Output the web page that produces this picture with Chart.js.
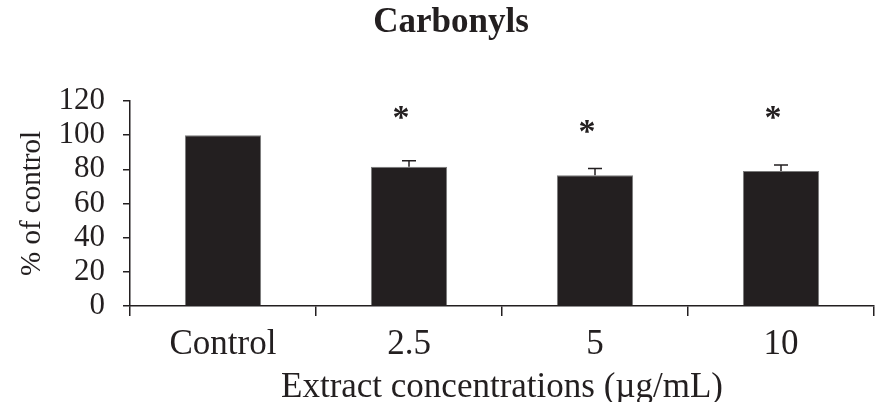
<!DOCTYPE html>
<html>
<head>
<meta charset="utf-8">
<title>Carbonyls</title>
<script src="https://cdn.jsdelivr.net/npm/chart.js@4/dist/chart.umd.min.js"></script>
<style>
  html, body { margin: 0; padding: 0; background: #fff; }
  #wrap { width: 885px; height: 402px; }
</style>
</head>
<body>
<div id="wrap"><canvas id="chart" width="885" height="402"></canvas></div>
<script>
// Carbonyls - % of control by extract concentration
var categories = ['Control', '2.5', '5', '10'];
var values = [100, 81.5, 76.5, 79];
var errors = [0, 3.5, 4, 3.5];
// height (in % of control units) where the significance star sits
var starLevels = [null, 114, 106, 114];
var yTicks = [0, 20, 40, 60, 80, 100, 120];

var ink = '#231f20';
var serif = '"Liberation Serif", "Times New Roman", serif';

// error bars drawn from the bar top up to value + error
var errorBars = {
  id: 'errorBars',
  afterDatasetsDraw: function(chart) {
    var ctx = chart.ctx;
    var y = chart.scales.y;
    var bars = chart.getDatasetMeta(0).data;
    ctx.save();
    ctx.strokeStyle = ink;
    ctx.lineWidth = 1.5;
    bars.forEach(function(bar, i) {
      if (!errors[i]) return;
      var top = y.getPixelForValue(values[i] + errors[i]);
      ctx.beginPath();
      ctx.moveTo(bar.x, bar.y);
      ctx.lineTo(bar.x, top);
      ctx.moveTo(bar.x - 7, top);
      ctx.lineTo(bar.x + 7, top);
      ctx.stroke();
    });
    ctx.restore();
  }
};

// asterisks above the treated groups
var stars = {
  id: 'stars',
  afterDatasetsDraw: function(chart) {
    var ctx = chart.ctx;
    var y = chart.scales.y;
    var bars = chart.getDatasetMeta(0).data;
    ctx.save();
    ctx.fillStyle = ink;
    ctx.font = 'bold 34px ' + serif;
    ctx.textAlign = 'center';
    ctx.textBaseline = 'middle';
    bars.forEach(function(bar, i) {
      if (starLevels[i] == null) return;
      ctx.fillText('*', bar.x - 8, y.getPixelForValue(starLevels[i]) + 8);
    });
    ctx.restore();
  }
};

new Chart(document.getElementById('chart'), {
  type: 'bar',
  data: {
    labels: categories,
    datasets: [{
      data: values,
      backgroundColor: ink,
      borderColor: '#7a7a7a',
      borderWidth: 1,
      barPercentage: 0.41,
      categoryPercentage: 1
    }]
  },
  options: {
    responsive: false,
    animation: false,
    // left padding pushes the title centre to the right, as in the figure
    layout: { padding: { left: 28, right: 11, top: 0, bottom: 0 } },
    plugins: {
      legend: { display: false },
      tooltip: { enabled: false },
      title: {
        display: true,
        text: 'Carbonyls',
        color: ink,
        font: { family: serif, size: 35, weight: 'bold' },
        padding: { top: 2, bottom: 57 }
      }
    },
    scales: {
      x: {
        afterFit: function(scale) { scale.height = 96; },
        border: { color: ink, width: 1.5 },
        grid: {
          offset: true,
          drawOnChartArea: false,
          drawTicks: true,
          tickLength: 10,
          color: ink,
          lineWidth: 1.5
        },
        ticks: {
          color: ink,
          padding: 8,
          font: { family: serif, size: 35 }
        },
        title: {
          display: true,
          text: 'Extract concentrations (µg/mL)',
          color: ink,
          font: { family: serif, size: 35, lineHeight: 0.8 },
          padding: 0
        }
      },
      y: {
        min: 0,
        max: 120,
        afterFit: function(scale) { scale.width = 102; },
        afterBuildTicks: function(scale) {
          scale.ticks = yTicks.map(function(v) { return { value: v }; });
        },
        border: { color: ink, width: 1.5 },
        grid: {
          drawOnChartArea: false,
          drawTicks: true,
          tickLength: 7,
          color: ink,
          lineWidth: 1.5
        },
        ticks: {
          color: ink,
          padding: 18,
          autoSkip: false,
          font: { family: serif, size: 31, lineHeight: 1 }
        },
        title: {
          display: true,
          text: '% of control',
          color: ink,
          font: { family: serif, size: 29 },
          padding: { top: -13, bottom: 0 }
        }
      }
    }
  },
  plugins: [errorBars, stars]
});
</script>
</body>
</html>
